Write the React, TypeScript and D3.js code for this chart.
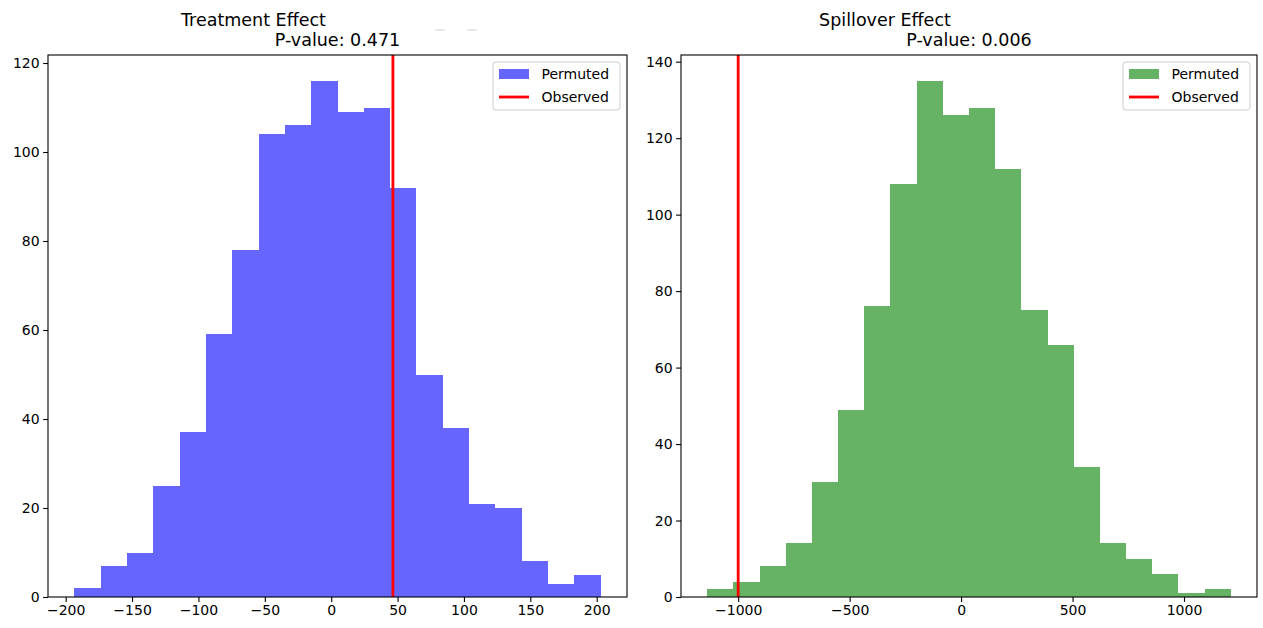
import React, { useEffect, useRef } from 'react';
import * as d3 from 'd3';

// histogram counts, 20 bins each
const treatmentCounts = [2, 7, 10, 25, 37, 59, 78, 104, 106, 116, 109, 110, 92, 50, 38, 21, 20, 8, 3, 5];
const treatmentRange = [-193.5, 203];
const treatmentObserved = 46.5;
const treatmentXTicks = [-200, -150, -100, -50, 0, 50, 100, 150, 200];
const treatmentYTicks = [0, 20, 40, 60, 80, 100, 120];

const spilloverCounts = [2, 4, 8, 14, 30, 49, 76, 108, 135, 126, 128, 112, 75, 66, 34, 14, 10, 6, 1, 2];
const spilloverRange = [-1139, 1210];
const spilloverObserved = -1000;
const spilloverXTicks = [-1000, -500, 0, 500, 1000];
const spilloverYTicks = [0, 20, 40, 60, 80, 100, 120, 140];

const FONT = 'DejaVu Sans, sans-serif';

const fmt = (v: number) => (v < 0 ? '\u2212' + Math.abs(v) : String(v));

const drawPanel = (svg: any, opts: any) => {
    const { left, right, top, bottom, counts, range, observed, xTicks, yTicks, color, title, pvalue, titleShift } = opts;
    const n = counts.length;
    const binW = (range[1] - range[0]) / n;
    const edges = d3.range(n + 1).map(i => range[0] + i * binW);
    const span = range[1] - range[0];

    const x = d3.scaleLinear()
        .domain([range[0] - 0.05 * span, range[1] + 0.05 * span])
        .range([left, right]);
    const y = d3.scaleLinear()
        .domain([0, d3.max(counts) * 1.05])
        .range([bottom, top]);

    const g = svg.append('g');

    g.selectAll('rect.bar')
        .data(counts)
        .enter()
        .append('rect')
        .attr('class', 'bar')
        .attr('x', (d, i) => x(edges[i]))
        .attr('width', (d, i) => x(edges[i + 1]) - x(edges[i]))
        .attr('y', d => y(d))
        .attr('height', d => y(0) - y(d))
        .attr('fill', color)
        .attr('fill-opacity', 0.6)
        .attr('shape-rendering', 'crispEdges');

    g.append('line')
        .attr('x1', x(observed)).attr('x2', x(observed))
        .attr('y1', top).attr('y2', bottom)
        .attr('stroke', 'red')
        .attr('stroke-width', 2.8);

    // axes
    const xAxis = d3.axisBottom(x).tickValues(xTicks).tickSize(4.9).tickPadding(3.5).tickFormat(fmt);
    const yAxis = d3.axisLeft(y).tickValues(yTicks).tickSize(4.9).tickPadding(3.5).tickFormat(fmt);

    const gx = g.append('g').attr('transform', `translate(0,${bottom})`).call(xAxis);
    const gy = g.append('g').attr('transform', `translate(${left},0)`).call(yAxis);
    [gx, gy].forEach(a => {
        a.select('.domain').remove();
        a.selectAll('line').attr('stroke', '#000').attr('stroke-width', 1.1);
        a.selectAll('text').attr('font-family', FONT).attr('font-size', 14).attr('fill', '#000');
    });
    gx.selectAll('text').attr('dy', '0.71em');

    g.append('rect')
        .attr('x', left).attr('y', top)
        .attr('width', right - left).attr('height', bottom - top)
        .attr('fill', 'none')
        .attr('stroke', '#000')
        .attr('stroke-width', 1.1);

    // titles
    const cx = (left + right) / 2;
    g.append('text')
        .attr('x', cx - titleShift).attr('y', 26)
        .attr('text-anchor', 'middle')
        .attr('font-family', FONT).attr('font-size', 17.5)
        .text(title);
    g.append('text')
        .attr('x', cx).attr('y', 46)
        .attr('text-anchor', 'middle')
        .attr('font-family', FONT).attr('font-size', 17.5)
        .text(pvalue);

    // legend
    const lw = 127, lh = 48;
    const lx = right - 7 - lw, ly = top + 7;
    const leg = g.append('g');
    leg.append('rect')
        .attr('x', lx).attr('y', ly)
        .attr('width', lw).attr('height', lh)
        .attr('rx', 3)
        .attr('fill', 'white').attr('fill-opacity', 0.8)
        .attr('stroke', '#cccccc').attr('stroke-width', 1);
    leg.append('rect')
        .attr('x', lx + 6).attr('y', ly + 7)
        .attr('width', 30).attr('height', 10)
        .attr('fill', color).attr('fill-opacity', 0.6);
    leg.append('line')
        .attr('x1', lx + 6).attr('x2', lx + 36)
        .attr('y1', ly + 35).attr('y2', ly + 35)
        .attr('stroke', 'red').attr('stroke-width', 2.8);
    leg.selectAll('text.lab')
        .data(['Permuted', 'Observed'])
        .enter()
        .append('text')
        .attr('class', 'lab')
        .attr('x', lx + 48.5)
        .attr('y', (d, i) => ly + 17 + i * 23)
        .attr('font-family', FONT).attr('font-size', 14)
        .text(d => d);
};

const HistPanels = () => {
    const svgRef = useRef(null);

    useEffect(() => {
        const svg = d3.select(svgRef.current);
        svg.selectAll('*').remove();

        svg.append('rect').attr('width', 1263).attr('height', 628).attr('fill', 'white');

        drawPanel(svg, {
            left: 48, right: 627, top: 55, bottom: 597,
            counts: treatmentCounts, range: treatmentRange, observed: treatmentObserved,
            xTicks: treatmentXTicks, yTicks: treatmentYTicks,
            color: 'blue', title: 'Treatment Effect', pvalue: 'P-value: 0.471', titleShift: 84,
        });
        drawPanel(svg, {
            left: 681, right: 1257, top: 55, bottom: 597,
            counts: spilloverCounts, range: spilloverRange, observed: spilloverObserved,
            xTicks: spilloverXTicks, yTicks: spilloverYTicks,
            color: 'green', title: 'Spillover Effect', pvalue: 'P-value: 0.006', titleShift: 84,
        });

        // faint marks above the left panel
        [[435, 445], [467, 477]].forEach(([a, b]) => {
            svg.append('line')
                .attr('x1', a).attr('x2', b).attr('y1', 30).attr('y2', 30)
                .attr('stroke', '#cfcfcf').attr('stroke-width', 1);
        });
    }, []);

    return (
        <svg ref={svgRef} width={1263} height={628} style={{ position: 'absolute', left: 0, top: 0 }}></svg>
    );
};

export default function App() {
    return <HistPanels />;
}
